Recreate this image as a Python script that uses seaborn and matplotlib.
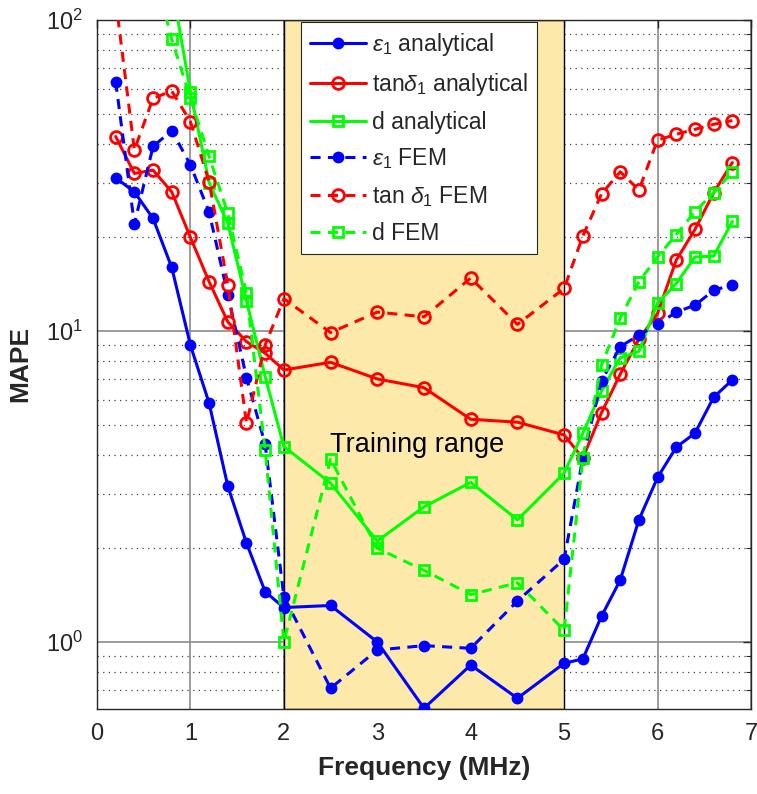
import numpy as np
import pandas as pd
import matplotlib
matplotlib.use("Agg")
import matplotlib.pyplot as plt
import seaborn as sns
from matplotlib.ticker import FixedLocator, NullFormatter

# ---------------- data ----------------
freq = [0.2, 0.4, 0.6, 0.8, 1.0, 1.2, 1.4, 1.6, 1.8, 2.0, 2.5, 3.0, 3.5, 4.0, 4.5,
        5.0, 5.2, 5.4, 5.6, 5.8, 6.0, 6.2, 6.4, 6.6, 6.8]

eps_analytical = [31.1, 28.0, 23.0, 16.0, 9.0, 5.86, 3.17, 2.08, 1.45, 1.29, 1.31, 1.00,
                  0.612, 0.843, 0.659, 0.854, 0.882, 1.21, 1.58, 2.47, 3.38, 4.23, 4.69,
                  6.12, 6.96]
tan_analytical = [42.2, 32.1, 32.9, 28.0, 20.0, 14.4, 10.7, 9.24, 8.48, 7.49, 7.93, 7.01,
                  6.57, 5.20, 5.09, 4.63, 3.90, 5.46, 7.26, 9.4, 11.4, 16.9, 21.2, 27.8, 34.8]
d_analytical = [np.nan, np.nan, np.nan, 130, 58.8, 30.0, 22.2, 12.5, 7.13, 4.25, 3.24, 2.11,
                2.72, 3.26, 2.47, 3.49, 4.69, 6.4, 8.2, 8.6, 12.3, 14.2, 17.3, 17.4, 22.5]
eps_fem = [63.3, 22.1, 39.2, 44.1, 34.2, 24.1, 13.1, 7.08, 4.32, 1.40, 0.71, 0.942, 0.973,
           0.954, 1.354, 1.845, 3.90, 6.9, 8.9, 9.7, 10.5, 11.5, 12.1, 13.5, 14.1]
tan_fem = [116, 38.2, 56.0, 59.1, 47.1, 30.2, 14.1, 5.05, 9.02, 12.7, 9.88, 11.5, 11.1,
           14.8, 10.5, 13.7, 20.2, 27.6, 32.5, 28.4, 41.1, 42.9, 44.5, 46.2, 47.5]
d_fem = [np.nan, np.nan, 147, 86.7, 56.0, 36.4, 23.9, 13.2, 4.14, 1.00, 3.87, 2.00, 1.70,
         1.42, 1.55, 1.09, 3.90, 7.76, 11.0, 14.4, 17.3, 20.4, 24.2, 27.8, 32.5]

labels = [r"$\epsilon_1$ analytical", r"tan$\delta_1$ analytical", "d analytical",
          r"$\epsilon_1$ FEM", r"tan $\delta_1$ FEM", "d FEM"]
y_ticks = [1, 10, 100]
x_ticks = [0, 1, 2, 3, 4, 5, 6, 7]
training_range = (2, 5)

# ---------------- style ----------------
sns.set_style("white")
plt.rcParams["font.family"] = ["Liberation Sans", "DejaVu Sans"]
plt.rcParams["mathtext.fontset"] = "custom"
plt.rcParams["mathtext.rm"] = "Liberation Sans"
plt.rcParams["mathtext.it"] = "Liberation Sans:italic"
plt.rcParams["mathtext.bf"] = "Liberation Sans:bold"

fig = plt.figure(figsize=(7.57, 7.94), dpi=100)
ax = fig.add_axes([97 / 757, 1 - 708.7 / 794, (751 - 97) / 757, (708.7 - 20) / 794])

ax.axvspan(*training_range, facecolor="#FDEAAA", edgecolor="black", lw=1.0, zorder=1)

dash = (0, (3.3, 2.4))
specs = [
    (eps_analytical, "#0000FF", "o", "-", "#0000FF", 7.5, 1.0),
    (tan_analytical, "#FF0000", "o", "-", "none", 8.5, 2.0),
    (d_analytical, "#00FF00", "s", "-", "none", 7, 2.0),
    (eps_fem, "#0000FF", "o", dash, "#0000FF", 7.5, 1.0),
    (tan_fem, "#FF0000", "o", dash, "none", 8.5, 2.0),
    (d_fem, "#00FF00", "s", dash, "none", 7, 2.0),
]
for (vals, col, mk, ls, mfc, ms, mew), lab in zip(specs, labels):
    df = pd.DataFrame({"Frequency (MHz)": freq, "MAPE": vals})
    sns.lineplot(data=df, x="Frequency (MHz)", y="MAPE", ax=ax, color=col, marker=mk,
                 linestyle=ls, lw=2.2, markersize=ms, markerfacecolor=mfc,
                 markeredgecolor=col, markeredgewidth=mew, label=lab,
                 errorbar=None, zorder=3)

ax.set_yscale("log")
ax.set_xlim(0, 7)
ax.set_ylim(0.61, 100)
ax.set_xticks(x_ticks)
ax.set_yticks(y_ticks)
minors = [m * 10.0 ** e for e in (-1, 0, 1) for m in range(2, 10)]
ax.yaxis.set_minor_locator(FixedLocator(minors))
ax.yaxis.set_minor_formatter(NullFormatter())

ax.set_axisbelow(True)
ax.grid(True, which="major", axis="both", color="#8a8a8a", lw=1.2, ls="-")
ax.grid(True, which="minor", axis="y", color="#444444", lw=0.9, ls=(0, (1, 3.5)))

ax.tick_params(which="both", direction="in", top=True, right=True, colors="#262626",
               labelsize=17)
ax.tick_params(which="major", length=6, width=1, pad=10)
ax.tick_params(which="minor", length=3.5, width=0.8)
for s in ax.spines.values():
    s.set_color("#262626")
    s.set_linewidth(1.0)

ax.set_xlabel("Frequency (MHz)", fontsize=19, fontweight="bold", color="#262626", labelpad=8)
ax.set_ylabel("MAPE", fontsize=19, fontweight="bold", color="#262626", labelpad=10)

ax.text(3.43, 4.3, "Training range", fontsize=19.5, ha="center", va="center", color="black",
        zorder=4)

leg = ax.legend(loc="upper left", bbox_to_anchor=(0.312, 0.9975), borderaxespad=0,
                fontsize=16.5, frameon=True, fancybox=False, framealpha=1,
                edgecolor="#262626", handlelength=2.45, labelspacing=0.56,
                handletextpad=0.25, borderpad=0.4, numpoints=1)
leg.get_frame().set_linewidth(0.8)
leg.set_zorder(10)

fig.savefig("out.png", dpi=100)
